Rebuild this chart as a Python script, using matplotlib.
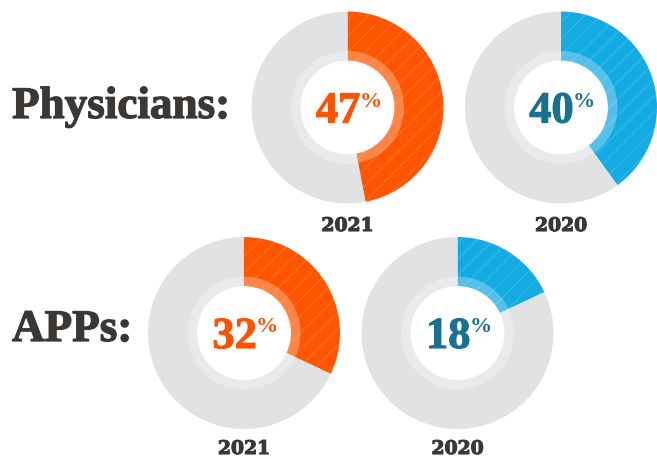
import matplotlib
matplotlib.use("Agg")
import matplotlib.pyplot as plt
from matplotlib.patches import Wedge
import matplotlib.patheffects as pe

# Data
groups = ["Physicians:", "APPs:"]
years = ["2021", "2020"]
values = {"Physicians:": [47, 40], "APPs:": [32, 18]}

# Style
W, H = 657, 460
wedge_colors = ["#FF5500", "#14AAE2"]
text_colors = ["#FF5200", "#17718F"]
gray = "#E1E2E4"
label_color = "#3B3734"
R_OUT, R_IN, R_RING = 96, 47, 56.5

centers = {"Physicians:": [(347.5, 108.5), (561, 108.5)],
           "APPs:": [(244, 334), (457.5, 334)]}
group_label_pos = {"Physicians:": (12, 108), "APPs:": (12, 331)}
year_label_dy = [118.5, 116]

fig = plt.figure(figsize=(W / 100, H / 100), dpi=100)
ax = fig.add_axes([0, 0, 1, 1])
ax.set_xlim(0, W)
ax.set_ylim(0, H)
ax.set_aspect("equal")
ax.axis("off")

thick = [pe.withStroke(linewidth=0.9, foreground=label_color)]

for gi, g in enumerate(groups):
    gx, gy = group_label_pos[g]
    ax.text(gx, H - gy, g, fontsize=32.5, fontweight="bold",
            family="Liberation Serif", color=label_color,
            ha="left", va="center", path_effects=thick)
    for i, (yr, v) in enumerate(zip(years, values[g])):
        cx, cy_px = centers[g][i]
        cy = H - cy_px
        ax.pie([v, 100 - v], colors=[wedge_colors[i], gray], startangle=90,
               counterclock=False, center=(cx, cy), radius=R_OUT,
               wedgeprops=dict(width=R_OUT - R_IN, linewidth=0))
        theta2 = 90
        theta1 = 90 - 360 * v / 100
        ax.add_patch(Wedge((cx, cy), R_OUT, theta1, theta2, width=R_OUT - R_IN,
                           facecolor="none", edgecolor=(1, 1, 1, 0.13),
                           hatch="//", linewidth=0))
        ax.add_patch(Wedge((cx, cy), R_RING, 0, 360, width=R_RING - R_IN,
                           facecolor=(1, 1, 1, 0.28), linewidth=0))
        numfx = [pe.withStroke(linewidth=0.8, foreground=text_colors[i])]
        ax.text(cx + 13, cy - 15, str(v), fontsize=32, fontweight="bold",
                family="Liberation Serif", color=text_colors[i],
                ha="right", va="baseline", path_effects=numfx)
        ax.text(cx + 12, cy + 1.5, "%", fontsize=16, fontweight="bold",
                family="Liberation Serif", color=text_colors[i],
                ha="left", va="baseline")
        ax.text(cx, cy - year_label_dy[gi], yr, fontsize=13.5, fontweight="bold",
                family="DejaVu Serif", color=label_color,
                ha="center", va="center",
                path_effects=[pe.withStroke(linewidth=0.8, foreground=label_color)])

ax.set_xlim(0, W)
ax.set_ylim(0, H)
fig.savefig("out.png", dpi=100)
